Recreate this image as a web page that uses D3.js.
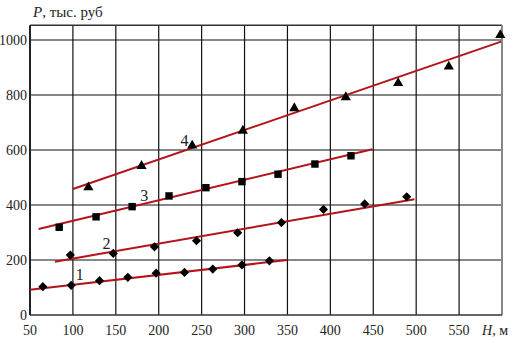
<!DOCTYPE html>
<html>
<head>
<meta charset="utf-8">
<script src="https://cdn.jsdelivr.net/npm/d3@7"></script>
<style>
  body { margin: 0; background: #fff; }
  svg text { font-family: "Liberation Serif"; }
</style>
</head>
<body>
<div id="chart"></div>
<script>
// data
const xTicks = [50, 100, 150, 200, 250, 300, 350, 400, 450, 500, 550];
const yTicks = [0, 200, 400, 600, 800, 1000];

const h1 = [65, 98, 131, 164, 197, 230, 263, 297, 329];
const p1 = [103, 108, 125, 137, 152, 155, 167, 182, 197];
const h2 = [97, 147, 195, 244, 292, 343, 392, 440, 489];
const p2 = [218, 224, 248, 270, 299, 336, 384, 404, 430];
const h3 = [84, 127, 169, 212, 255, 297, 339, 382, 424];
const p3 = [319, 357, 394, 433, 463, 485, 512, 549, 579];
const h4 = [118, 180, 239, 298, 358, 418, 479, 538, 598];
const p4 = [464, 542, 616, 670, 752, 792, 843, 903, 1018];

// fitted lines: [H start, H end], [P start, P end]
const fitH = [[50, 350], [79, 498], [60, 449], [100, 599]];
const fitP = [[92, 200], [194, 421], [313, 603], [458, 994]];
const seriesNames = ["1", "2", "3", "4"];
const labelH = [108, 139, 183, 230];
const labelP = [127, 240, 415, 614];

const width = 513, height = 342;

const svg = d3.select("#chart").append("svg")
  .attr("width", width)
  .attr("height", height);

const x = d3.scaleLinear().domain([50, 600]).range([30, 502]);
const y = d3.scaleLinear().domain([0, 1000]).range([315, 40]);

// grid
svg.selectAll(".vgrid")
  .data(xTicks.slice(1))
  .enter().append("line")
  .attr("x1", d => x(d)).attr("x2", d => x(d))
  .attr("y1", y(1054)).attr("y2", y(0))
  .attr("stroke", "#111").attr("stroke-width", 1.2);

svg.selectAll(".hgrid")
  .data(yTicks.slice(1))
  .enter().append("line")
  .attr("x1", x(50)).attr("x2", x(600))
  .attr("y1", d => y(d)).attr("y2", d => y(d))
  .attr("stroke", "#111").attr("stroke-width", 1.2);

// frame
svg.append("line").attr("x1", x(50)).attr("x2", x(600)).attr("y1", y(1054)).attr("y2", y(1054))
  .attr("stroke", "#333").attr("stroke-width", 1.5);
svg.append("line").attr("x1", x(600)).attr("x2", x(600)).attr("y1", y(1054)).attr("y2", y(0))
  .attr("stroke", "#888").attr("stroke-width", 2);
svg.append("line").attr("x1", x(50)).attr("x2", x(600)).attr("y1", y(0)).attr("y2", y(0))
  .attr("stroke", "#333").attr("stroke-width", 1.5);
svg.append("line").attr("x1", x(50)).attr("x2", x(50)).attr("y1", y(1054)).attr("y2", y(0))
  .attr("stroke", "#222").attr("stroke-width", 2);

// tick labels
svg.selectAll(".xlab")
  .data(xTicks)
  .enter().append("text")
  .attr("x", d => x(d))
  .attr("y", 335)
  .attr("text-anchor", "middle")
  .attr("font-size", "14px")
  .attr("fill", "#222")
  .text(d => d);

svg.selectAll(".ylab")
  .data(yTicks)
  .enter().append("text")
  .attr("x", 27)
  .attr("y", d => y(d) + 5)
  .attr("text-anchor", "end")
  .attr("font-size", "14px")
  .attr("fill", "#222")
  .text(d => d);

// axis titles
const pTitle = svg.append("text")
  .attr("x", 33).attr("y", 17)
  .attr("font-size", "15px").attr("fill", "#222");
pTitle.append("tspan").attr("font-style", "italic").text("P");
pTitle.append("tspan").text(", тыс. руб");

const hTitle = svg.append("text")
  .attr("x", 482).attr("y", 335)
  .attr("font-size", "14px").attr("fill", "#222");
hTitle.append("tspan").attr("font-style", "italic").text("H");
hTitle.append("tspan").text(", м");

// fitted lines
fitH.forEach((hs, i) => {
  svg.append("line")
    .attr("x1", x(hs[0])).attr("y1", y(fitP[i][0]))
    .attr("x2", x(hs[1])).attr("y2", y(fitP[i][1]))
    .attr("stroke", "#b3141c")
    .attr("stroke-width", 2);
});

// markers (diamond = square turned 45 degrees)
const sets = [
  { h: h1, p: p1, sym: d3.symbolSquare, size: 42, rot: 45 },
  { h: h2, p: p2, sym: d3.symbolSquare, size: 42, rot: 45 },
  { h: h3, p: p3, sym: d3.symbolSquare, size: 55, rot: 0 },
  { h: h4, p: p4, sym: d3.symbolTriangle, size: 45, rot: 0 }
];

sets.forEach(s => {
  svg.selectAll(null)
    .data(s.h.map((h, i) => ({ h: h, p: s.p[i] })))
    .enter().append("path")
    .attr("d", d3.symbol().type(s.sym).size(s.size))
    .attr("transform", d => `translate(${x(d.h)},${y(d.p)}) rotate(${s.rot})`)
    .attr("fill", "#000");
});

// series numbers
svg.selectAll(".slab")
  .data(seriesNames)
  .enter().append("text")
  .attr("x", (d, i) => x(labelH[i]))
  .attr("y", (d, i) => y(labelP[i]))
  .attr("text-anchor", "middle")
  .attr("font-size", "16px")
  .attr("fill", "#222")
  .text(d => d);
</script>
</body>
</html>
